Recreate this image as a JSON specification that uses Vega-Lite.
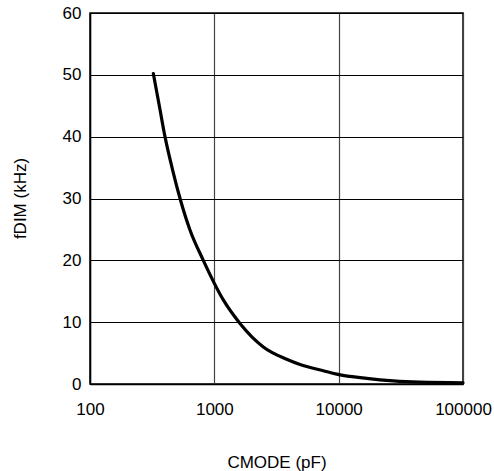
{
  "$schema": "https://vega.github.io/schema/vega-lite/v6.json",
  "width": 373,
  "height": 371,
  "autosize": {"type": "none"},
  "padding": {"left": 90, "top": 13, "right": 31, "bottom": 87},
  "background": "white",
  "config": {
    "view": {"stroke": "black", "strokeWidth": 1.5},
    "font": "Liberation Sans",
    "axis": {"labelFont": "Liberation Sans", "titleFont": "Liberation Sans", "labelColor": "black", "titleColor": "black", "titleFontWeight": "normal"}
  },
  "data": {
    "values": [
      {"c": 323, "f": 50.2},
      {"c": 361, "f": 45.0},
      {"c": 401, "f": 40.0},
      {"c": 462, "f": 34.6},
      {"c": 530, "f": 30.0},
      {"c": 637, "f": 24.9},
      {"c": 815, "f": 20.0},
      {"c": 1181, "f": 13.6},
      {"c": 1608, "f": 9.8},
      {"c": 2477, "f": 6.0},
      {"c": 3820, "f": 4.0},
      {"c": 4889, "f": 3.15},
      {"c": 7530, "f": 2.15},
      {"c": 9643, "f": 1.6},
      {"c": 16810, "f": 0.9},
      {"c": 27520, "f": 0.5},
      {"c": 45080, "f": 0.3},
      {"c": 100000, "f": 0.2}
    ]
  },
  "mark": {"type": "line", "color": "black", "strokeWidth": 3.2, "strokeCap": "round", "interpolate": "monotone"},
  "encoding": {
    "x": {
      "field": "c", "type": "quantitative",
      "scale": {"type": "log", "domain": [100, 100000], "nice": false},
      "axis": {
        "values": [100, 1000, 10000, 100000], "format": "d",
        "title": "CMODE (pF)", "titleFontSize": 17, "titleBaseline": "middle", "titleY": 78,
        "labelFontSize": 17, "labelPadding": 17, "ticks": false, "tickSize": 0,
        "domainColor": "black", "domainWidth": 1.5,
        "grid": true, "gridColor": "#444444", "gridWidth": 1.2, "gridOpacity": 1,
        "labelFlush": false
      }
    },
    "y": {
      "field": "f", "type": "quantitative",
      "scale": {"domain": [0, 60], "nice": false},
      "axis": {
        "values": [0, 10, 20, 30, 40, 50, 60],
        "title": "fDIM (kHz)", "titleFontSize": 17, "titleBaseline": "middle", "titleX": -70, "titleY": 185, "titleAngle": -90,
        "labelFontSize": 17, "labelPadding": 9, "ticks": false, "tickSize": 0,
        "domainColor": "black", "domainWidth": 1.5,
        "grid": true, "gridColor": "black", "gridWidth": 1.2, "gridOpacity": 1
      }
    }
  }
}
